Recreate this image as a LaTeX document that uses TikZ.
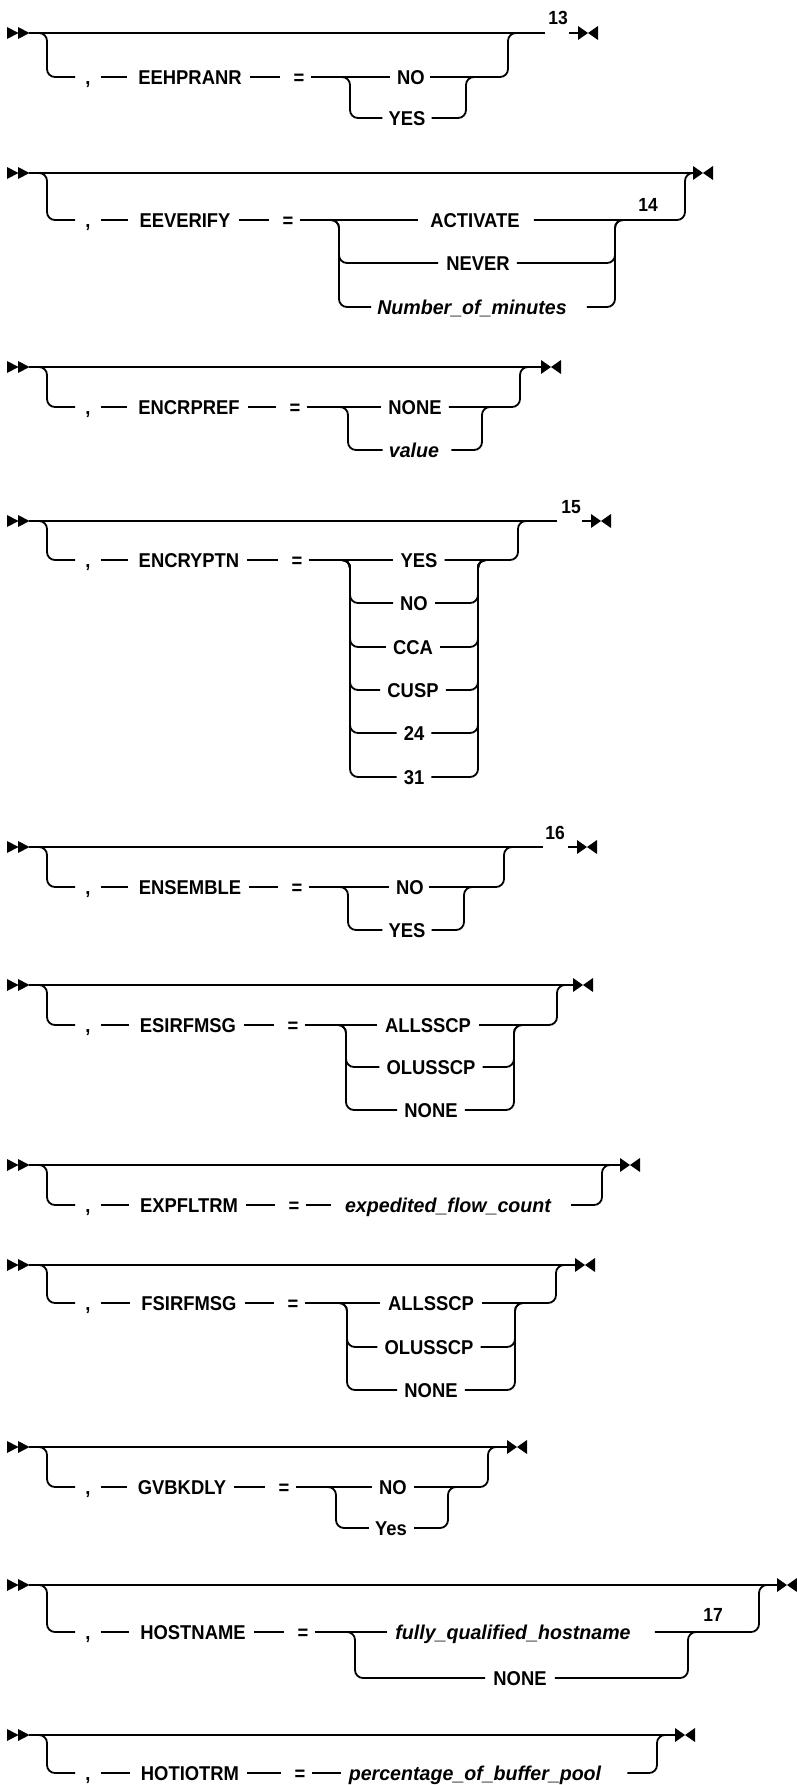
\documentclass[tikz,border=0pt]{standalone}
\usepackage{fontspec}
\setmainfont{Liberation Sans}
\newfontfamily\rrfont{Liberation Sans}[FakeStretch=0.92]
\newfontfamily\rrit{Liberation Sans}[FakeStretch=0.98]
\tikzset{
  rr/.style={line width=1.8pt, rounded corners=8pt},
  kw/.style={inner sep=0pt, text height=14.3pt, text depth=0pt, font=\rrfont\bfseries\fontsize{20}{24}\selectfont},
  var/.style={inner sep=0pt, text height=14.3pt, text depth=0pt, font=\rrit\bfseries\itshape\fontsize{20}{24}\selectfont},
  fn/.style={inner sep=0pt, font=\rrfont\bfseries\fontsize{19}{22}\selectfont},
  startmark/.pic={\fill (0,-6) -- (11.5,0) -- (0,6) -- cycle; \fill (11,-6) -- (22.5,0) -- (11,6) -- cycle;},
  endmark/.pic={\fill (0,-7) -- (10,0) -- (0,7) -- cycle; \fill (20,-7) -- (10,0) -- (20,7) -- cycle;}
}
\newcommand{\secstart}[6]{%
  \pic at (7,#2) {startmark};
  \coordinate (#1st) at (29,#2);
  \coordinate (#1sp) at (38,#2);
  \node[kw] (#1comma) at (88,#3) {,};
  \node[kw] (#1kw) at (#5,#3) {#4};
  \node[kw] (#1eq) at (#6,#3) {=};
  \draw[rr, shorten >=10pt] (#1sp) -- ++(9,0) |- (#1comma);
  \draw[rr, shorten <=10pt, shorten >=11pt] (#1comma) -- (#1kw);
  \draw[rr, shorten <=8pt, shorten >=13pt] (#1kw) -- (#1eq);
}
\begin{document}
\begin{tikzpicture}[x=1pt,y=-1pt]
\useasboundingbox (0,0) rectangle (796,1785);

% ---------- 1 EEHPRANR
\secstart{a}{33}{77}{EEHPRANR}{190}{299}
\node[kw] (aNO) at (411,77) {NO};
\node[kw] (aYES) at (407,118) {YES};
\coordinate (acl) at (340,77); \coordinate (acr) at (466,77);
\coordinate (aex) at (508,33); \coordinate (aen) at (545,33);
\draw[rr] (ast) -- (aen);
\draw[rr, shorten <=6pt, shorten >=7pt] (aeq) -- (aNO);
\draw[rr, shorten <=5pt] (aNO) -| (aex) -- ++(10,0);
\draw[rr, shorten >=6pt] (acl) -- ++(10,0) |- (aYES);
\draw[rr, shorten <=6pt] (aYES) -| (acr) -- ++(10,0);
\node[fn] (a13) at (558,18) {13};
\coordinate (afe) at (569,33); \coordinate (aem) at (578,33);
\draw[rr] (afe) -- (aem);
\pic at (aem) {endmark};

% ---------- 2 EEVERIFY
\secstart{b}{173}{220}{EEVERIFY}{185}{288}
\node[kw] (bACT) at (475,220) {ACTIVATE};
\node[kw] (bNEV) at (478,263) {NEVER};
\node[var] (bNUM) at (472,307) {Number\_of\_minutes};
\coordinate (bcl) at (329,220); \coordinate (bcr) at (615,220);
\coordinate (bex) at (685,173); \coordinate (ben) at (693,173);
\draw[rr] (bst) -- (ben);
\draw[rr, shorten <=6pt, shorten >=12pt] (beq) -- (bACT);
\draw[rr, shorten <=14pt] (bACT) -| (bex) -- ++(8,0);
\draw[rr, shorten >=8pt] (bcl) -- ++(10,0) |- (bNEV);
\draw[rr, shorten >=6pt] (bcl) -- ++(10,0) |- (bNUM);
\draw[rr, shorten <=7pt] (bNEV) -| (bcr) -- ++(10,0);
\draw[rr, shorten <=20pt] (bNUM) -| (bcr) -- ++(10,0);
\node[fn] (b14) at (648,205) {14};
\pic at (ben) {endmark};

% ---------- 3 ENCRPREF
\secstart{c}{367}{407}{ENCRPREF}{189}{295}
\node[kw] (cNONE) at (415,407) {NONE};
\node[var] (cVAL) at (414,450) {value};
\coordinate (ccl) at (338,407); \coordinate (ccr) at (482,407);
\coordinate (cex) at (520,367); \coordinate (cen) at (541,367);
\draw[rr] (cst) -- (cen);
\draw[rr, shorten <=6pt, shorten >=7pt] (ceq) -- (cNONE);
\draw[rr, shorten <=7pt] (cNONE) -| (cex) -- ++(10,0);
\draw[rr, shorten >=6pt] (ccl) -- ++(10,0) |- (cVAL);
\draw[rr, shorten <=12pt] (cVAL) -| (ccr) -- ++(10,0);
\pic at (cen) {endmark};

% ---------- 4 ENCRYPTN
\secstart{d}{521}{560}{ENCRYPTN}{189}{297}
\node[kw] (dYES) at (419,560) {YES};
\node[kw] (dNO) at (414,603) {NO};
\node[kw] (dCCA) at (413,647) {CCA};
\node[kw] (dCUSP) at (413,690) {CUSP};
\node[kw] (d24) at (414,733) {24};
\node[kw] (d31) at (414,777) {31};
\coordinate (dcl) at (340,560); \coordinate (dcr) at (478,560);
\coordinate (dex) at (518,521); \coordinate (den) at (557,521);
\draw[rr] (dst) -- (den);
\draw[rr, shorten <=6pt, shorten >=7pt] (deq) -- (dYES);
\draw[rr, shorten <=7pt] (dYES) -| (dex) -- ++(10,0);
\foreach \o in {dNO,dCCA,dCUSP,d24,d31}{
  \draw[rr, shorten >=7pt] (dcl) -- ++(10,0) |- (\o);
  \draw[rr, shorten <=7pt] (\o) -| (dcr) -- ++(10,0);
}
\node[fn] (d15) at (571,507) {15};
\coordinate (dfe) at (582,521); \coordinate (dem) at (591,521);
\draw[rr] (dfe) -- (dem);
\pic at (dem) {endmark};

% ---------- 5 ENSEMBLE
\secstart{e}{847}{887}{ENSEMBLE}{190}{297}
\node[kw] (eNO) at (410,887) {NO};
\node[kw] (eYES) at (407,930) {YES};
\coordinate (ecl) at (338,887); \coordinate (ecr) at (464,887);
\coordinate (eex) at (504,847); \coordinate (een) at (543,847);
\draw[rr] (est) -- (een);
\draw[rr, shorten <=6pt, shorten >=7pt] (eeq) -- (eNO);
\draw[rr, shorten <=5pt] (eNO) -| (eex) -- ++(10,0);
\draw[rr, shorten >=6pt] (ecl) -- ++(10,0) |- (eYES);
\draw[rr, shorten <=6pt] (eYES) -| (ecr) -- ++(10,0);
\node[fn] (e16) at (555,833) {16};
\coordinate (efe) at (568,847); \coordinate (eem) at (577,847);
\draw[rr] (efe) -- (eem);
\pic at (eem) {endmark};

% ---------- 6 ESIRFMSG
\secstart{f}{985}{1025}{ESIRFMSG}{188}{293}
\node[kw] (fALL) at (428,1025) {ALLSSCP};
\node[kw] (fOLU) at (431,1067) {OLUSSCP};
\node[kw] (fNONE) at (431,1110) {NONE};
\coordinate (fcl) at (336,1025); \coordinate (fcr) at (514,1025);
\coordinate (fex) at (557,985); \coordinate (fen) at (573,985);
\draw[rr] (fst) -- (fen);
\draw[rr, shorten <=6pt, shorten >=8pt] (feq) -- (fALL);
\draw[rr, shorten <=8pt] (fALL) -| (fex) -- ++(10,0);
\foreach \o in {fOLU,fNONE}{
  \draw[rr, shorten >=7pt] (fcl) -- ++(10,0) |- (\o);
  \draw[rr, shorten <=7pt] (\o) -| (fcr) -- ++(10,0);
}
\pic at (fen) {endmark};

% ---------- 7 EXPFLTRM
\secstart{g}{1165}{1205}{EXPFLTRM}{189}{294}
\node[var] (gVAR) at (448,1205) {expedited\_flow\_count};
\coordinate (gex) at (602,1165); \coordinate (gen) at (620,1165);
\draw[rr] (gst) -- (gen);
\draw[rr, shorten <=6pt, shorten >=14pt] (geq) -- (gVAR);
\draw[rr, shorten <=20pt] (gVAR) -| (gex) -- ++(10,0);
\pic at (gen) {endmark};

% ---------- 8 FSIRFMSG
\secstart{h}{1265}{1303}{FSIRFMSG}{189}{293}
\node[kw] (hALL) at (431,1303) {ALLSSCP};
\node[kw] (hOLU) at (429,1347) {OLUSSCP};
\node[kw] (hNONE) at (431,1390) {NONE};
\coordinate (hcl) at (337,1303); \coordinate (hcr) at (515,1303);
\coordinate (hex) at (556,1265); \coordinate (hen) at (575,1265);
\draw[rr] (hst) -- (hen);
\draw[rr, shorten <=6pt, shorten >=8pt] (heq) -- (hALL);
\draw[rr, shorten <=8pt] (hALL) -| (hex) -- ++(10,0);
\foreach \o in {hOLU,hNONE}{
  \draw[rr, shorten >=7pt] (hcl) -- ++(10,0) |- (\o);
  \draw[rr, shorten <=7pt] (\o) -| (hcr) -- ++(10,0);
}
\pic at (hen) {endmark};

% ---------- 9 GVBKDLY
\secstart{i}{1447}{1487}{GVBKDLY}{182}{284}
\node[kw] (iNO) at (393,1487) {NO};
\node[kw] (iYes) at (391,1528) {Yes};
\coordinate (icl) at (326,1487); \coordinate (icr) at (448,1487);
\coordinate (iex) at (488,1447); \coordinate (ien) at (507,1447);
\draw[rr] (ist) -- (ien);
\draw[rr, shorten <=6pt, shorten >=7pt] (ieq) -- (iNO);
\draw[rr, shorten <=7pt] (iNO) -| (iex) -- ++(10,0);
\draw[rr, shorten >=6pt] (icl) -- ++(10,0) |- (iYes);
\draw[rr, shorten <=7pt] (iYes) -| (icr) -- ++(10,0);
\pic at (ien) {endmark};

% ---------- 10 HOSTNAME
\secstart{j}{1585}{1632}{HOSTNAME}{193}{303}
\node[var] (jFQH) at (513,1632) {fully\_qualified\_hostname};
\node[kw] (jNONE) at (520,1678) {NONE};
\coordinate (jcl) at (345,1632); \coordinate (jcr) at (688,1632);
\coordinate (jex) at (759,1585); \coordinate (jen) at (777,1585);
\draw[rr] (jst) -- (jen);
\draw[rr, shorten <=6pt, shorten >=8pt] (jeq) -- (jFQH);
\draw[rr, shorten <=24pt] (jFQH) -| (jex) -- ++(10,0);
\draw[rr, shorten >=8pt] (jcl) -- ++(10,0) |- (jNONE);
\draw[rr, shorten <=8pt] (jNONE) -| (jcr) -- ++(10,0);
\node[fn] (j17) at (713,1615) {17};
\pic at (jen) {endmark};

% ---------- 11 HOTIOTRM
\secstart{k}{1735}{1773}{HOTIOTRM}{190}{300}
\node[var] (kVAR) at (475,1773) {percentage\_of\_buffer\_pool};
\coordinate (kex) at (657,1735); \coordinate (ken) at (675,1735);
\draw[rr] (kst) -- (ken);
\draw[rr, shorten <=6pt, shorten >=8pt] (keq) -- (kVAR);
\draw[rr, shorten <=26pt] (kVAR) -| (kex) -- ++(10,0);
\pic at (ken) {endmark};
\end{tikzpicture}
\end{document}
